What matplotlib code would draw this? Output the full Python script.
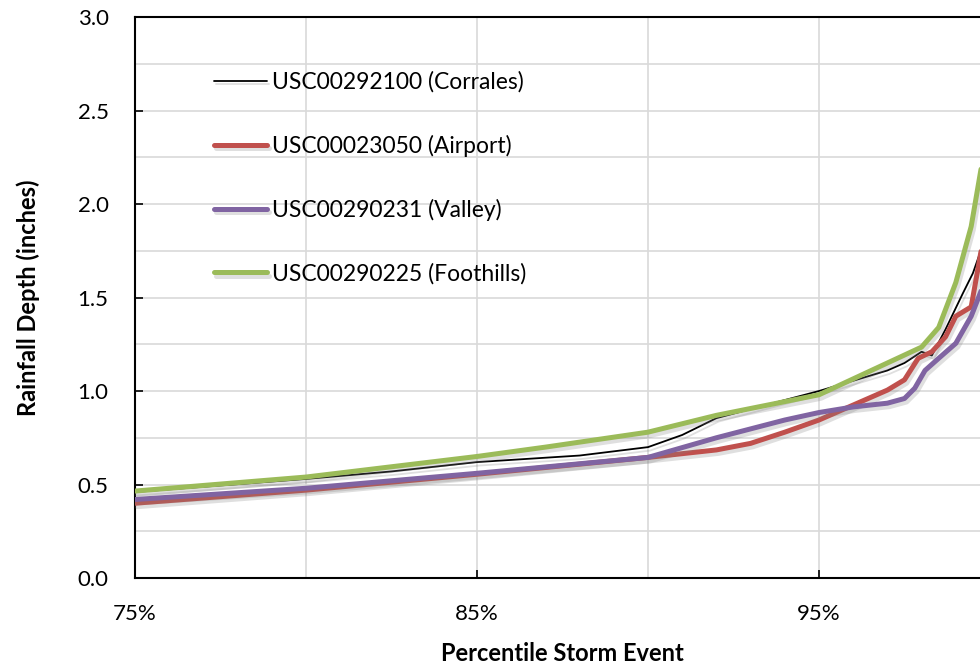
import matplotlib

matplotlib.use("Agg")  # headless
import matplotlib.pyplot as plt  # noqa: E402
import matplotlib.patheffects as pe  # noqa: E402
from matplotlib.ticker import FixedLocator, MultipleLocator, FuncFormatter  # noqa: E402

plt.rcParams["font.family"] = ["Lato", "DejaVu Sans"]

# percentile storm event (%) -> rainfall depth (inches)
CORRALES_X = [75, 80, 82.5, 85, 88, 90, 91, 92, 95, 97, 97.5, 98, 98.3, 98.7, 99.2, 99.5, 99.75]
CORRALES_Y = [0.46, 0.53, 0.57, 0.62, 0.655, 0.70, 0.765, 0.855, 1.0, 1.11, 1.15, 1.21, 1.19, 1.33, 1.52, 1.63, 1.76]

AIRPORT_X = [75, 80, 85, 90, 92, 93, 94, 95, 96, 97, 97.5, 97.9, 98.3, 98.7, 99, 99.45, 99.75]
AIRPORT_Y = [0.40, 0.47, 0.555, 0.645, 0.685, 0.72, 0.78, 0.845, 0.925, 1.005, 1.06, 1.175, 1.21, 1.29, 1.40, 1.45, 1.76]

VALLEY_X = [75, 80, 85, 90, 92, 94, 95, 96, 97, 97.5, 97.8, 98.1, 98.5, 99, 99.45, 99.75]
VALLEY_Y = [0.42, 0.48, 0.56, 0.645, 0.75, 0.845, 0.885, 0.915, 0.935, 0.96, 1.015, 1.11, 1.175, 1.255, 1.40, 1.54]

FOOTHILLS_X = [75, 80, 85, 87, 90, 92, 95, 97, 98, 98.5, 99, 99.45, 99.75]
FOOTHILLS_Y = [0.465, 0.54, 0.65, 0.70, 0.78, 0.87, 0.98, 1.15, 1.235, 1.34, 1.58, 1.88, 2.2]

X_TICKS = [75, 85, 95]
X_GRID = [80, 90]

SERIES = [
    ("USC00292100 (Corrales)", CORRALES_X, CORRALES_Y, "#000000", 1.3),
    ("USC00023050 (Airport)", AIRPORT_X, AIRPORT_Y, "#C0504D", 3.6),
    ("USC00290231 (Valley)", VALLEY_X, VALLEY_Y, "#8064A2", 3.6),
    ("USC00290225 (Foothills)", FOOTHILLS_X, FOOTHILLS_Y, "#9BBB59", 3.6),
]
DRAW_ORDER = [1, 2, 0, 3]


def main() -> None:
    fig = plt.figure(figsize=(9.8, 6.65), dpi=100)
    ax = fig.add_axes([0.1378, 0.1308, 0.8724, 0.8436])

    shadow = [pe.SimpleLineShadow(offset=(1.5, -2.5), shadow_color="#808080", alpha=0.25), pe.Normal()]
    lines = {}
    for i in DRAW_ORDER:
        label, xs, ys, color, lw = SERIES[i]
        (ln,) = ax.plot(xs, ys, color=color, lw=lw, solid_capstyle="round", label=label,
                        path_effects=shadow, zorder=3 + i)
        lines[i] = ln

    ax.set_xlim(75, 100)
    ax.set_ylim(0, 3.0)
    ax.xaxis.set_major_locator(FixedLocator(X_TICKS))
    ax.xaxis.set_minor_locator(FixedLocator(X_GRID))
    ax.yaxis.set_major_locator(MultipleLocator(0.5))
    ax.yaxis.set_minor_locator(MultipleLocator(0.25))
    ax.xaxis.set_major_formatter(FuncFormatter(lambda v, _: f"{v:.0f}%"))
    ax.yaxis.set_major_formatter(FuncFormatter(lambda v, _: f"{v:.1f}"))
    ax.grid(which="both", color="#D9D9D9", lw=1.2)
    ax.set_axisbelow(True)
    ax.tick_params(which="major", direction="in", length=6, width=1.2, labelsize=16)
    ax.tick_params(which="minor", length=0)
    ax.tick_params(axis="y", pad=19)
    ax.tick_params(axis="x", pad=19)
    for s in ("left", "bottom", "top"):
        ax.spines[s].set_linewidth(1.5)
    ax.spines["right"].set_visible(False)

    ax.set_xlabel("Percentile Storm Event", fontsize=17, fontweight="bold", labelpad=13)
    ax.set_ylabel("Rainfall Depth (inches)", fontsize=17, fontweight="bold", labelpad=27)

    handles = [lines[i] for i in range(4)]
    ax.legend(handles, [s[0] for s in SERIES], loc="upper left", bbox_to_anchor=(0.068, 0.94),
              frameon=False, fontsize=16.5, labelspacing=1.83, handlelength=2.3,
              handletextpad=0.25)

    fig.savefig("out.png", dpi=100)


if __name__ == "__main__":
    main()
